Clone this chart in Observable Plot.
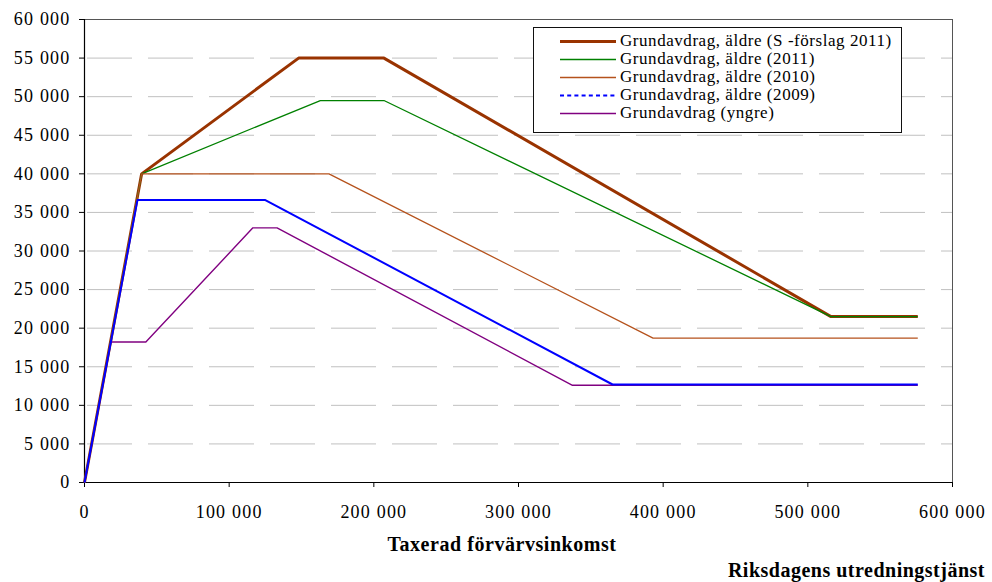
<!DOCTYPE html>
<html>
<head>
<meta charset="utf-8">
<script src="https://cdn.jsdelivr.net/npm/d3@7"></script>
<script src="https://cdn.jsdelivr.net/npm/@observablehq/plot@0.6"></script>
<style>
  html, body { margin: 0; padding: 0; background: #fff; }
  body { font-family: "Liberation Serif", "Times New Roman", serif; color: #000; }
  #wrap { position: relative; width: 992px; height: 582px; overflow: hidden; }
  #chart svg text { letter-spacing: 1.2px; }
  #xtitle { height: 28px; line-height: 28px; font-size: 20px; font-weight: bold; text-align: center; padding-left: 12px; letter-spacing: 0.55px; }
  #caption { height: 24px; line-height: 24px; font-size: 20px; font-weight: bold; text-align: right; padding-right: 7px; letter-spacing: 0.5px; }
  #legend { position: absolute; left: 533px; top: 27px; width: 367px; height: 100px; border: 1px solid #111; background: #fff; padding-top: 4px; box-sizing: content-box; }
  .row { position: relative; height: 18px; line-height: 16px; font-size: 17px; letter-spacing: 0.55px; white-space: nowrap; }
  .row svg { position: absolute; left: 26px; top: 0; }
  .row span { position: absolute; left: 86px; top: 1px; line-height: 16px; }
</style>
</head>
<body>
<div id="wrap">
  <div id="chart"></div>
  <div id="xtitle"></div>
  <div id="caption"></div>
  <div id="legend"></div>
</div>
<script>
// ---- Data ----
const seriesNames = [
  "Grundavdrag, äldre (S -förslag 2011)",
  "Grundavdrag, äldre (2011)",
  "Grundavdrag, äldre (2010)",
  "Grundavdrag, äldre (2009)",
  "Grundavdrag (yngre)"
];
const seriesColors = ["#993300", "#008000", "#b5521c", "#0000ff", "#800080"];
const seriesWidths = [3, 1.3, 1.3, 2, 1.4];

const sForslagIncome = [0, 39500, 148000, 207000, 516000, 576000];
const sForslagValue  = [0, 40000, 55000, 55000, 21500, 21500];

const aldre2011Income = [0, 39500, 163000, 207000, 516000, 576000];
const aldre2011Value  = [0, 40000, 49500, 49500, 21500, 21500];

const aldre2010Income = [0, 39500, 169000, 393000, 576000];
const aldre2010Value  = [0, 40000, 40000, 18700, 18700];

const aldre2009Income = [0, 36600, 125000, 365000, 576000];
const aldre2009Value  = [0, 36600, 36600, 12700, 12700];

const yngreIncome = [0, 18200, 42400, 116400, 133100, 337300, 576000];
const yngreValue  = [0, 18200, 18200, 33000, 33000, 12600, 12600];

const xTicks = [0, 100000, 200000, 300000, 400000, 500000, 600000];
const yTicks = [0, 5000, 10000, 15000, 20000, 25000, 30000, 35000, 40000, 45000, 50000, 55000, 60000];
const gridValues = [5000, 10000, 15000, 20000, 25000, 30000, 35000, 40000, 45000, 50000, 55000];

const xTitle = "Taxerad förvärvsinkomst";
const caption = "Riksdagens utredningstjänst";

// ---- Build ----
const incomes = [sForslagIncome, aldre2011Income, aldre2010Income, aldre2009Income, yngreIncome];
const values  = [sForslagValue, aldre2011Value, aldre2010Value, aldre2009Value, yngreValue];
const rows = incomes.map((inc, i) => inc.map((x, j) => ({series: seriesNames[i], x, y: values[i][j]})));

const locale = d3.formatLocale({decimal: ",", thousands: " ", grouping: [3], currency: ["", ""]});
const fmt = locale.format(",");

// drawing order: brown, green, orange, purple, blue
const drawOrder = [0, 1, 2, 4, 3];

const chart = Plot.plot({
  width: 992,
  height: 530,
  marginLeft: 84,
  marginRight: 40,
  marginTop: 19,
  marginBottom: 48,
  style: {fontFamily: '"Liberation Serif", "Times New Roman", serif', fontSize: "18px", color: "#000", background: "#fff"},
  x: {domain: [0, 600000]},
  y: {domain: [0, 60000]},
  marks: [
    Plot.gridY(gridValues, {stroke: "#c0c0c0", strokeOpacity: 1, strokeWidth: 1, strokeDasharray: "45,16", strokeDashoffset: -3}),
    Plot.frame({stroke: "#555", strokeWidth: 1}),
    Plot.axisY(yTicks, {tickFormat: fmt, tickSize: 5, tickPadding: 9, label: null, stroke: "#000", fill: "#000", fontSize: 18}),
    Plot.axisX(xTicks, {tickFormat: fmt, tickSize: 5, tickPadding: 18, label: null, stroke: "#000", fill: "#000", fontSize: 18}),
    Plot.ruleX([0], {stroke: "#000", strokeWidth: 1.2}),
    Plot.ruleY([0], {stroke: "#000", strokeWidth: 1.2}),
    ...drawOrder.map(i => Plot.line(rows[i], {
      x: "x", y: "y",
      stroke: seriesColors[i],
      strokeWidth: seriesWidths[i],
      strokeLinejoin: "round",
      strokeLinecap: "butt"
    }))
  ]
});
document.getElementById("chart").appendChild(chart);
document.getElementById("xtitle").textContent = xTitle;
document.getElementById("caption").textContent = caption;

// legend
const legend = document.getElementById("legend");
seriesNames.forEach((name, i) => {
  const row = document.createElement("div");
  row.className = "row";
  const dash = i === 3 ? ' stroke-dasharray="4,3.2"' : '';
  row.innerHTML = `<svg width="56" height="18"><line x1="0" x2="56" y1="9.5" y2="9.5" stroke="${seriesColors[i]}" stroke-width="${seriesWidths[i]}"${dash}/></svg><span></span>`;
  row.querySelector("span").textContent = name;
  legend.appendChild(row);
});
</script>
</body>
</html>
